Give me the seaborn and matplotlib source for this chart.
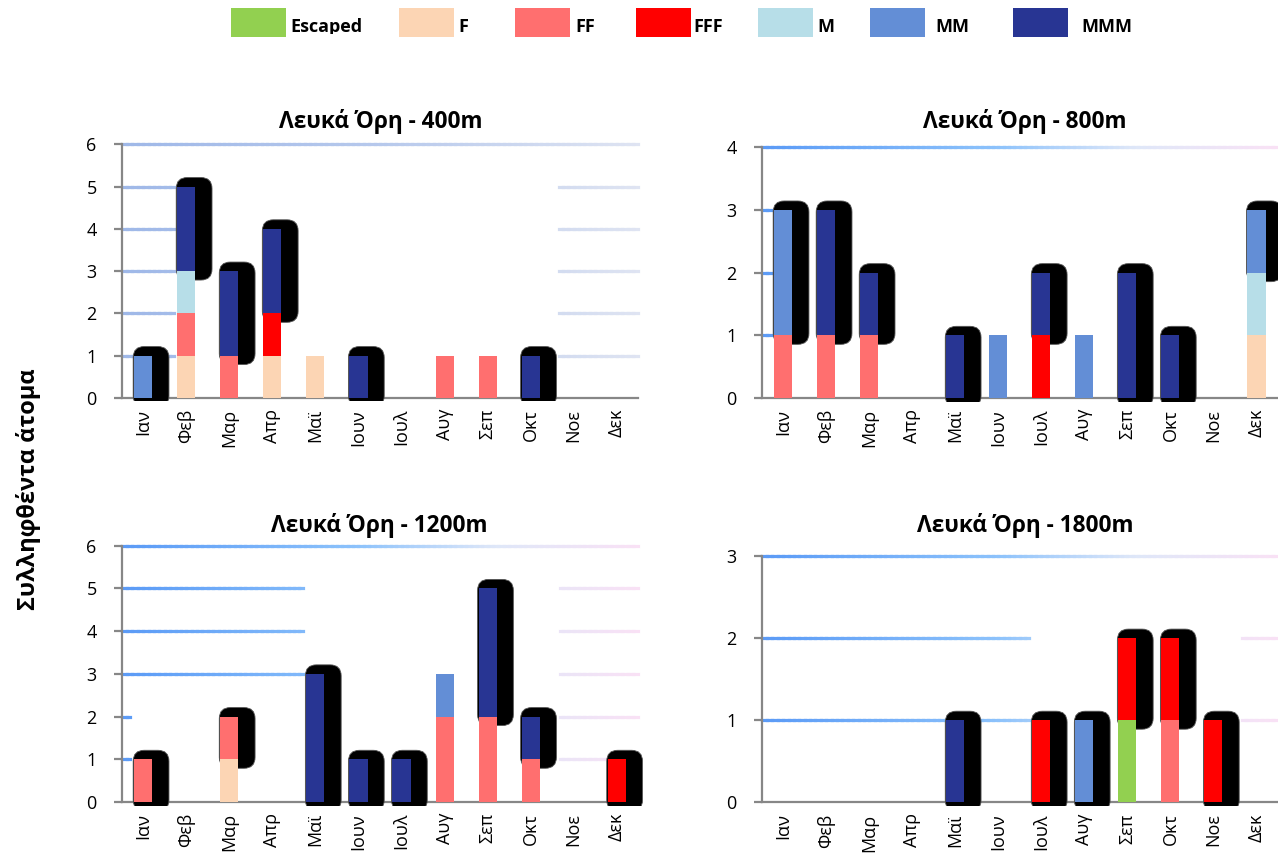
import numpy as np
import pandas as pd
import matplotlib
matplotlib.use("Agg")
import matplotlib.pyplot as plt
import seaborn as sns
from matplotlib.patches import FancyBboxPatch, Rectangle
from matplotlib.collections import LineCollection
from matplotlib.transforms import Bbox, IdentityTransform
from matplotlib.colors import to_rgb

# ---------------------------------------------------------------- data
months = ["Ιαν", "Φεβ", "Μαρ", "Απρ", "Μαϊ", "Ιουν", "Ιουλ", "Αυγ", "Σεπ", "Οκτ", "Νοε", "Δεκ"]
series = ["Escaped", "F", "FF", "FFF", "M", "MM", "MMM"]
series_colors = ["#92d050", "#fcd5b4", "#ff6f6f", "#ff0000", "#b7dee8", "#638ed6", "#283593"]

titles = ["Λευκά Όρη - 400m", "Λευκά Όρη - 800m", "Λευκά Όρη - 1200m", "Λευκά Όρη - 1800m"]
y_max = [6, 4, 6, 3]
y_label = "Συλληφθέντα άτομα"

counts_400 = {
    "Escaped": [0, 0, 0, 0, 0, 0, 0, 0, 0, 0, 0, 0],
    "F":       [0, 1, 0, 1, 1, 0, 0, 0, 0, 0, 0, 0],
    "FF":      [0, 1, 1, 0, 0, 0, 0, 1, 1, 0, 0, 0],
    "FFF":     [0, 0, 0, 1, 0, 0, 0, 0, 0, 0, 0, 0],
    "M":       [0, 1, 0, 0, 0, 0, 0, 0, 0, 0, 0, 0],
    "MM":      [1, 0, 0, 0, 0, 0, 0, 0, 0, 0, 0, 0],
    "MMM":     [0, 2, 2, 2, 0, 1, 0, 0, 0, 1, 0, 0],
}
counts_800 = {
    "Escaped": [0, 0, 0, 0, 0, 0, 0, 0, 0, 0, 0, 0],
    "F":       [0, 0, 0, 0, 0, 0, 0, 0, 0, 0, 0, 1],
    "FF":      [1, 1, 1, 0, 0, 0, 0, 0, 0, 0, 0, 0],
    "FFF":     [0, 0, 0, 0, 0, 0, 1, 0, 0, 0, 0, 0],
    "M":       [0, 0, 0, 0, 0, 0, 0, 0, 0, 0, 0, 1],
    "MM":      [2, 0, 0, 0, 0, 1, 0, 1, 0, 0, 0, 1],
    "MMM":     [0, 2, 1, 0, 1, 0, 1, 0, 2, 1, 0, 0],
}
counts_1200 = {
    "Escaped": [0, 0, 0, 0, 0, 0, 0, 0, 0, 0, 0, 0],
    "F":       [0, 0, 1, 0, 0, 0, 0, 0, 0, 0, 0, 0],
    "FF":      [1, 0, 1, 0, 0, 0, 0, 2, 2, 1, 0, 0],
    "FFF":     [0, 0, 0, 0, 0, 0, 0, 0, 0, 0, 0, 1],
    "M":       [0, 0, 0, 0, 0, 0, 0, 0, 0, 0, 0, 0],
    "MM":      [0, 0, 0, 0, 0, 0, 0, 1, 0, 0, 0, 0],
    "MMM":     [0, 0, 0, 0, 3, 1, 1, 0, 3, 1, 0, 0],
}
counts_1800 = {
    "Escaped": [0, 0, 0, 0, 0, 0, 0, 0, 1, 0, 0, 0],
    "F":       [0, 0, 0, 0, 0, 0, 0, 0, 0, 0, 0, 0],
    "FF":      [0, 0, 0, 0, 0, 0, 0, 0, 0, 1, 0, 0],
    "FFF":     [0, 0, 0, 0, 0, 0, 1, 0, 1, 1, 1, 0],
    "M":       [0, 0, 0, 0, 0, 0, 0, 0, 0, 0, 0, 0],
    "MM":      [0, 0, 0, 0, 0, 0, 0, 1, 0, 0, 0, 0],
    "MMM":     [0, 0, 0, 0, 1, 0, 0, 0, 0, 0, 0, 0],
}
# months whose top segment carries the dark drop shadow
shadow_400 = [1, 1, 1, 1, 0, 1, 0, 0, 0, 1, 0, 0]
shadow_800 = [1, 1, 1, 0, 1, 0, 1, 0, 1, 1, 0, 1]
shadow_1200 = [1, 0, 1, 0, 1, 1, 1, 0, 1, 1, 0, 1]
shadow_1800 = [0, 0, 0, 0, 1, 0, 1, 1, 1, 1, 1, 0]

panel_counts = [counts_400, counts_800, counts_1200, counts_1800]
panel_shadows = [shadow_400, shadow_800, shadow_1200, shadow_1800]

# ---------------------------------------------------------------- style
sns.set_theme(style="white")
plt.rcParams["font.family"] = ["Open Sans", "DejaVu Sans"]

W, H = 1278, 861
fig = plt.figure(figsize=(W / 100, H / 100), dpi=100)
fig.patch.set_facecolor("white")

AXIS_GREY = "#878787"
BAR_W = 0.42

# axes boxes in pixels: left, right, top (y max), bottom (y = 0)
boxes = [(121.7, 638.3, 144.3, 397.8),
         (761.7, 1278.0, 147.3, 398.0),
         (121.7, 638.3, 545.7, 802.0),
         (761.7, 1278.0, 556.0, 802.3)]
title_pos = [(381, 121), (1025, 121), (379, 525), (1025, 525)]

# visible stretches of the horizontal grid (x in category units)
grid_spans = [
    {6: [(-0.5, 11.5)], **{v: [(-0.5, 0.715), (9.66, 11.5)] for v in range(1, 6)}},
    {4: [(-0.5, 11.5)], **{v: [(-0.5, -0.28)] for v in range(1, 4)}},
    {6: [(-0.5, 11.5)], 5: [(-0.5, 3.72), (9.69, 11.5)], 4: [(-0.5, 3.72), (9.69, 11.5)],
     3: [(-0.5, 3.72), (9.69, 11.5)], 2: [(-0.5, -0.3), (9.69, 11.5)], 1: [(-0.5, -0.3), (9.69, 11.5)]},
    {3: [(-0.5, 11.5)], 2: [(-0.5, 5.72), (10.67, 11.5)], 1: [(-0.5, 5.72), (10.67, 11.5)]},
]
grid_stops = [
    [(0.0, "#9fb8e8"), (0.5, "#b7c9ec"), (1.0, "#dfe4f2")],
    [(0.0, "#5b9bf6"), (0.45, "#8cc2fb"), (0.72, "#dfe7f8"), (1.0, "#f9e1f5")],
    [(0.0, "#5b9bf6"), (0.45, "#8cc2fb"), (0.72, "#dfe7f8"), (1.0, "#f9e1f5")],
    [(0.0, "#5b9bf6"), (0.45, "#8cc2fb"), (0.72, "#dfe7f8"), (1.0, "#f9e1f5")],
]


def gradient_color(stops, t):
    ts = [s[0] for s in stops]
    rgb = np.array([to_rgb(s[1]) for s in stops])
    return tuple(np.interp(t, ts, rgb[:, k]) for k in range(3))


def draw_grid(ax, spans, stops):
    xs = np.linspace(-0.5, 11.5, 97)
    for yv, parts in spans.items():
        for a, b in parts:
            pts = np.unique(np.concatenate([[a], xs[(xs > a) & (xs < b)], [b]]))
            segs, cols = [], []
            for p, q in zip(pts[:-1], pts[1:]):
                segs.append([(p, yv), (q, yv)])
                cols.append(gradient_color(stops, ((p + q) / 2 + 0.5) / 12))
            # draw right-to-left so each piece's overlap is hidden by its left neighbour
            lc = LineCollection(segs[::-1], colors=cols[::-1], linewidths=2.3, zorder=1,
                                capstyle="projecting", clip_on=False)
            ax.add_collection(lc)


axes = []
for k in range(4):
    l, r, t, b = boxes[k]
    ax = fig.add_axes([l / W, 1 - b / H, (r - l) / W, (b - t) / H])
    axes.append(ax)
    df = pd.DataFrame(panel_counts[k], index=months)[series]
    cum = df.cumsum(axis=1)

    # stacked bars: cumulative layers drawn from the top series downwards
    for s, c in reversed(list(zip(series, series_colors))):
        sns.barplot(x=months, y=cum[s].values, order=months, color=c,
                    width=BAR_W, saturation=1, errorbar=None, linewidth=0,
                    ax=ax, zorder=3)

    ax.set_xlim(-0.5, 11.5)
    ax.set_ylim(0, y_max[k])
    ax.set_xlabel("")
    ax.set_ylabel("")
    ax.set_facecolor("none")

    for side in ("top", "right"):
        ax.spines[side].set_visible(False)
    for side in ("left", "bottom"):
        ax.spines[side].set_color(AXIS_GREY)
        ax.spines[side].set_linewidth(1.6)
        ax.spines[side].set_zorder(2.2)

    ax.set_yticks(range(0, y_max[k] + 1))
    ax.set_xticks(range(12))
    ax.set_xticklabels(months, rotation=90)
    ax.set_xticks(np.arange(-0.5, 12, 1), minor=True)
    ax.tick_params(axis="x", which="major", length=0, pad=8, labelsize=13, colors="black")
    ax.tick_params(axis="x", which="minor", length=6, width=1.6, color=AXIS_GREY, direction="out")
    ax.tick_params(axis="y", which="major", left=True, length=6, width=1.6, color=AXIS_GREY,
                   direction="out", pad=12, labelsize=13, labelcolor="black")
    ax.grid(False)

    draw_grid(ax, grid_spans[k], grid_stops[k])

    fig.text(title_pos[k][0] / W, 1 - title_pos[k][1] / H, titles[k],
             ha="center", va="center", fontsize=16.3, fontweight="bold", color="black")

# drop shadows behind the top segment of flagged bars (drawn in pixel space)
fig.canvas.draw()
for k, ax in enumerate(axes):
    df = pd.DataFrame(panel_counts[k], index=months)[series]
    totals = df.sum(axis=1).values
    bottom_px = ax.transData.transform((0, 0))[1]
    clip = Bbox([[0, bottom_px - 3.5], [W, H]])
    for i, flag in enumerate(panel_shadows[k]):
        if not flag or totals[i] == 0:
            continue
        row = df.iloc[i].values
        top_val = row[np.nonzero(row)[0][-1]]
        x0, y0 = ax.transData.transform((i - BAR_W / 2, totals[i] - top_val))
        x1, y1 = ax.transData.transform((i + BAR_W / 2, totals[i]))
        left, right = x0 - 1.0, x1 + 16.7
        low, high = y0 - 9.0, y1 + 9.0
        sh = FancyBboxPatch((left, low), right - left, high - low,
                            boxstyle="round,pad=0,rounding_size=11",
                            transform=IdentityTransform(), facecolor="black",
                            edgecolor="#555555", linewidth=0.6, zorder=2.5)
        ax.add_patch(sh)
        sh.set_clip_box(clip)

# legend row across the top
leg_patch_x = [231, 399, 515, 636, 758, 870, 1013]
leg_text_x = [290, 458, 575, 693, 817, 935, 1081]
text_clip = Bbox([[0, H - 33.5], [W, H]])
for s, c, px, tx in zip(series, series_colors, leg_patch_x, leg_text_x):
    fig.patches.append(Rectangle((px / W, 1 - 37 / H), 55 / W, 29 / H,
                                 transform=fig.transFigure, facecolor=c,
                                 edgecolor="none"))
    txt = fig.text(tx / W, 1 - 27.5 / H, s, ha="left", va="center",
                   fontsize=13, fontweight="bold", color="black")
    txt.set_clip_box(text_clip)
    txt.set_clip_on(True)

fig.text(29 / W, 1 - 489 / H, y_label, rotation=90, ha="center", va="center",
         fontsize=17, fontweight="bold", color="black")

fig.savefig("out.png", dpi=100, facecolor="white")
